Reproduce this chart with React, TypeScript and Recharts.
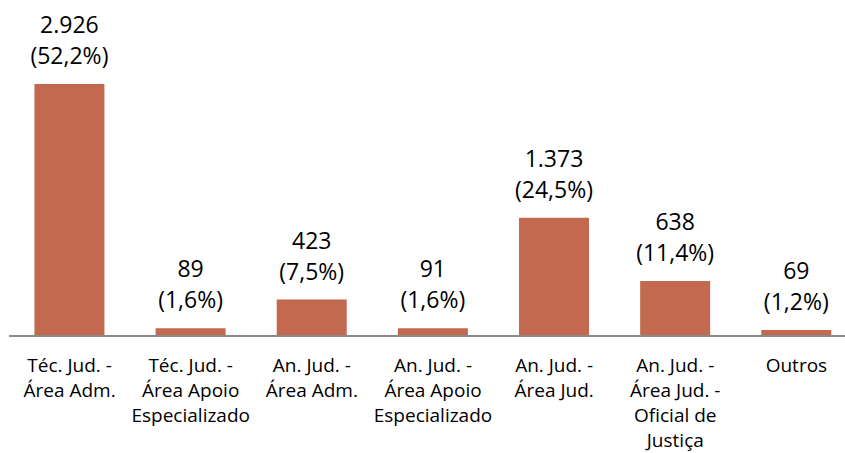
import { BarChart, Bar, XAxis, YAxis, LabelList } from "recharts";

const categories = [
  "Téc. Jud. -\nÁrea Adm.",
  "Téc. Jud. -\nÁrea Apoio\nEspecializado",
  "An. Jud. -\nÁrea Adm.",
  "An. Jud. -\nÁrea Apoio\nEspecializado",
  "An. Jud. -\nÁrea Jud.",
  "An. Jud. -\nÁrea Jud. -\nOficial de\nJustiça",
  "Outros",
];
const counts = [2926, 89, 423, 91, 1373, 638, 69];
const percents = ["52,2%", "1,6%", "7,5%", "1,6%", "24,5%", "11,4%", "1,2%"];

const data = categories.map((name, i) => ({
  name,
  total: counts[i],
  pct: percents[i],
}));

const FONT = "'Open Sans', sans-serif";

// 2926 -> "2.926"
const fmt = (n: number) => String(n).replace(/\B(?=(\d{3})+(?!\d))/g, ".");

const CategoryTick = (props: any) => {
  const { x, y, payload } = props;
  const lines = String(payload.value).split("\n");
  return (
    <text
      x={x}
      y={y}
      textAnchor="middle"
      fontFamily={FONT}
      fontSize={19}
      fill="#000"
    >
      {lines.map((l, i) => (
        <tspan key={i} x={x} dy={i === 0 ? 28 : 25}>
          {l}
        </tspan>
      ))}
    </text>
  );
};

const ValueLabel = (props: any) => {
  const { x, y, width, index } = props;
  const cx = x + width / 2;
  return (
    <text textAnchor="middle" fontFamily={FONT} fontSize={23} fill="#000">
      <tspan x={cx} y={y - 51}>
        {fmt(counts[index])}
      </tspan>
      <tspan x={cx} y={y - 20}>
        ({percents[index]})
      </tspan>
    </text>
  );
};

export default function App() {
  return (
    <div
      style={{
        position: "absolute",
        left: 0,
        top: 0,
        width: 845,
        height: 453,
        overflow: "hidden",
        background: "#fff",
      }}
    >
      <BarChart
        width={860}
        height={453}
        data={data}
        margin={{ top: 84, right: 3, bottom: 0, left: 9 }}
        barCategoryGap="21%"
      >
        <YAxis hide domain={[0, 2926]} />
        <XAxis
          dataKey="name"
          interval={0}
          height={117}
          tickLine={false}
          axisLine={{ stroke: "#898989", strokeWidth: 2 }}
          tick={<CategoryTick />}
        />
        <Bar dataKey="total" fill="#C3694F" isAnimationActive={false}>
          <LabelList dataKey="total" content={<ValueLabel />} />
        </Bar>
      </BarChart>
    </div>
  );
}
